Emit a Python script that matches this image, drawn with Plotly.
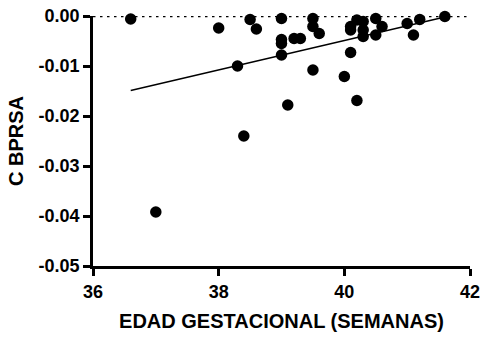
import plotly.graph_objects as go

edad = [36.6, 37.0, 38.0, 38.3, 38.4, 38.5, 38.6, 39.0, 39.0, 39.0, 39.0,
        39.1, 39.2, 39.3, 39.5, 39.5, 39.5, 39.6, 40.0, 40.1, 40.1, 40.1,
        40.2, 40.2, 40.3, 40.3, 40.3, 40.5, 40.5, 40.6, 41.0, 41.1, 41.2, 41.6]
cbprsa = [-0.0006, -0.0392, -0.0024, -0.0100, -0.0240, -0.0007, -0.0026,
          -0.0005, -0.0047, -0.0055, -0.0078, -0.0178, -0.0045, -0.0045,
          -0.0005, -0.0021, -0.0108, -0.0035, -0.0121, -0.0021, -0.0028,
          -0.0073, -0.0008, -0.0169, -0.0011, -0.0028, -0.0041, -0.0005,
          -0.0038, -0.0021, -0.0015, -0.0038, -0.0007, -0.0001]

fit_x = [36.6, 41.6]
fit_y = [-0.0149, -0.0002]

x_ticks = [36, 38, 40, 42]
x_tick_text = ["36", "38", "40", "42"]
y_ticks = [0.0, -0.01, -0.02, -0.03, -0.04, -0.05]
y_tick_text = ["0.00", "-0.01", "-0.02", "-0.03", "-0.04", "-0.05"]

fig = go.Figure()
fig.add_trace(go.Scatter(x=fit_x, y=fit_y, mode="lines",
                         line=dict(color="black", width=1.3),
                         showlegend=False, hoverinfo="skip"))
fig.add_trace(go.Scatter(x=edad, y=cbprsa, mode="markers",
                         marker=dict(color="black", size=11.5),
                         showlegend=False, cliponaxis=False))

fig.add_shape(type="line", x0=36, x1=41.95, y0=0, y1=0, xref="x", yref="y",
              line=dict(color="black", width=2.5, dash="2.5px,4.5px"), layer="below")

font_family = "Arial"
tick_font = dict(size=18, family=font_family, color="black")
title_font = dict(size=20, family=font_family, color="black")
fig.update_layout(
    width=482, height=339,
    margin=dict(l=93, r=12, t=16, b=73),
    plot_bgcolor="white", paper_bgcolor="white",
    font=dict(family=font_family, color="black"),
    xaxis=dict(range=[36, 42], tickvals=x_ticks,
               ticktext=["<b>" + t + "</b>" for t in x_tick_text],
               ticks="outside", ticklen=7,
               tickwidth=2.5, tickcolor="black", showline=True, linewidth=2.8,
               linecolor="black", showgrid=False, zeroline=False,
               automargin=False, tickfont=tick_font,
               title=dict(text="<b>EDAD GESTACIONAL (SEMANAS)</b>",
                          font=title_font, standoff=14)),
    yaxis=dict(range=[-0.05, 0.0], tickvals=y_ticks,
               ticktext=["<b>" + t + "</b>" for t in y_tick_text],
               ticks="outside", ticklen=7, tickwidth=2.5, tickcolor="black",
               showline=True, linewidth=2.8, linecolor="black",
               showgrid=False, zeroline=False, automargin=False,
               tickfont=tick_font,
               title=dict(text="<b>C BPRSA</b>", font=title_font, standoff=10)),
)

fig.write_html("out.html")
